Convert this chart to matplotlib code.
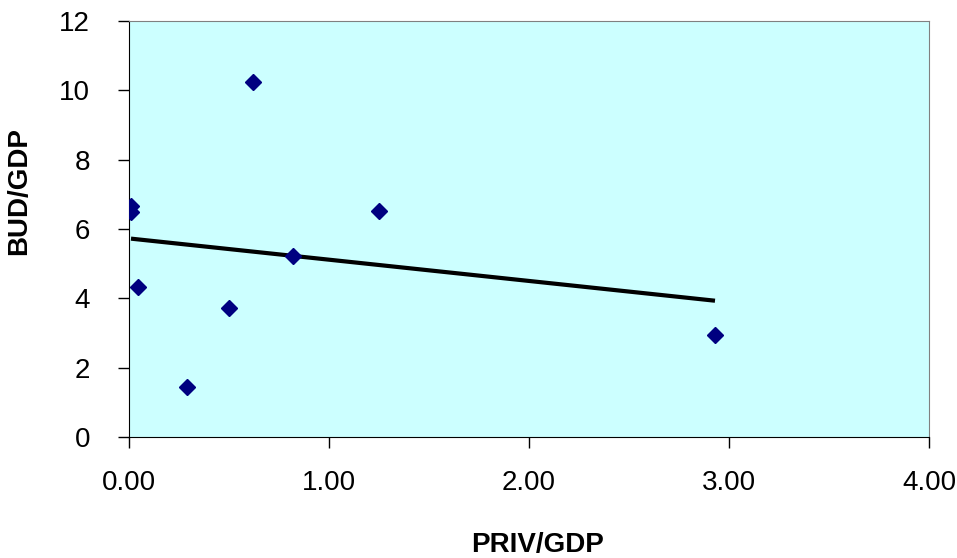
import numpy as np
import matplotlib
matplotlib.use("Agg")
import matplotlib.pyplot as plt

plt.rcParams['font.family'] = ['Liberation Sans', 'DejaVu Sans']

priv_gdp = [0.01, 0.01, 0.047, 0.29, 0.50, 0.62, 0.82, 1.25, 2.93]
bud_gdp = [6.66, 6.50, 4.32, 1.44, 3.73, 10.24, 5.22, 6.53, 2.94]
x_ticks = [0.0, 1.0, 2.0, 3.0, 4.0]
y_ticks = [0, 2, 4, 6, 8, 10, 12]

W, H = 957, 558
fig = plt.figure(figsize=(W / 100, H / 100), dpi=100)
ax = fig.add_axes([129/W, 1 - 437/H, 800/W, 416/H])
ax.set_facecolor('#CCFFFF')

ax.plot(priv_gdp, bud_gdp, linestyle='none', marker='D', markersize=8,
        color='#000080', zorder=3)

# linear trendline (least squares), spanning data range
slope, intercept = np.polyfit(priv_gdp, bud_gdp, 1)
xs = np.array([min(priv_gdp), max(priv_gdp)])
ax.plot(xs, slope * xs + intercept, color='black', linewidth=3,
        solid_capstyle='butt', zorder=2)

ax.set_xlim(0, 4)
ax.set_ylim(0, 12)
ax.set_xticks(x_ticks)
ax.set_xticklabels([f"{v:.2f}" for v in x_ticks])
ax.set_yticks(y_ticks)
ax.tick_params(axis='both', direction='out', length=8, width=1, color='black',
               labelsize=20)
ax.tick_params(axis='x', pad=16)
ax.tick_params(axis='y', pad=20)
for side in ['top', 'right']:
    ax.spines[side].set_color('#808080')
for side in ['left', 'bottom']:
    ax.spines[side].set_color('black')

fig.text(538/W, 1 - 552/H, 'PRIV/GDP', fontsize=20, fontweight='bold',
         ha='center', va='baseline')
fig.text(19/W, 1 - 191/H, 'BUD/GDP', fontsize=20, fontweight='bold',
         ha='center', va='center', rotation=90)

fig.savefig('out.png', dpi=100)
